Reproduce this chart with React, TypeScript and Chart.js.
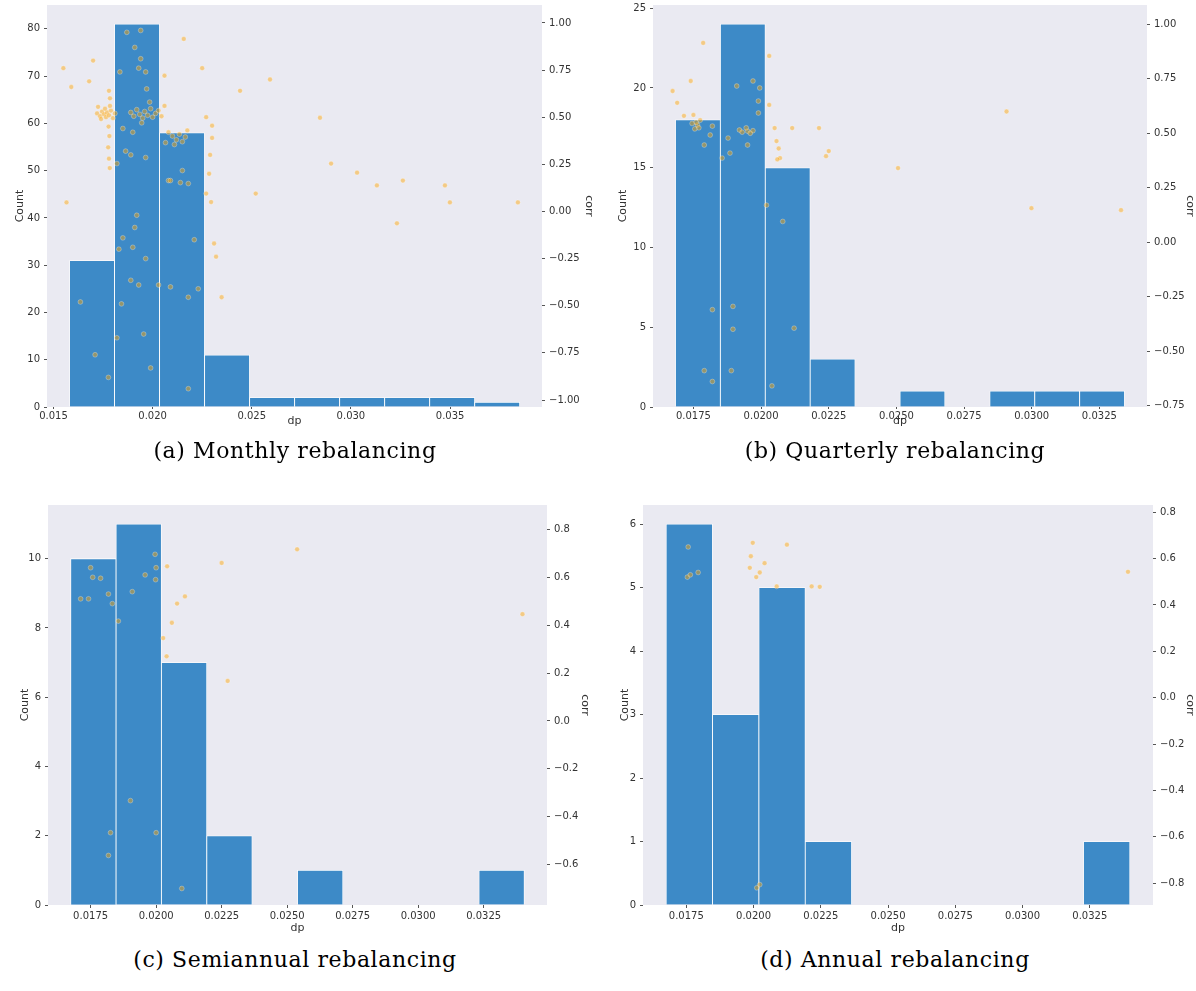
import React, { useEffect, useRef } from "react";
import { Chart, registerables } from "chart.js";

Chart.register(...registerables);

// ---------- DATA ----------
// Histogram bin edges and counts
const edgesA = [0.01581, 0.01808, 0.02035, 0.02262, 0.02489, 0.02716, 0.02943, 0.0317, 0.03397, 0.03624, 0.03851];
const countsA = [31, 81, 58, 11, 2, 2, 2, 2, 2, 1];

const edgesB = [0.016836, 0.018495, 0.020155, 0.021814, 0.023474, 0.025133, 0.026792, 0.028452, 0.030111, 0.031771, 0.03343];
const countsB = [18, 24, 15, 3, 0, 1, 0, 1, 1, 1];

const edgesC = [0.01674, 0.018471, 0.020202, 0.021933, 0.023664, 0.025395, 0.027126, 0.028857, 0.030588, 0.032319, 0.03405];
const countsC = [10, 11, 7, 2, 0, 1, 0, 0, 0, 1];

const edgesD = [0.01675, 0.018474, 0.020198, 0.021922, 0.023646, 0.02537, 0.027094, 0.028818, 0.030542, 0.032266, 0.03399];
const countsD = [6, 3, 5, 1, 0, 0, 0, 0, 0, 1];

// Scatter overlay points [dp, corr]
const pointsA: number[][] = [
  [0.0172, 0.52], [0.01735, 0.505], [0.01745, 0.53], [0.01755, 0.515], [0.01765, 0.5], [0.0177, 0.525],
  [0.0178, 0.51], [0.0179, 0.535], [0.018, 0.495], [0.0181, 0.52], [0.0174, 0.49], [0.0176, 0.545],
  [0.01725, 0.555], [0.01785, 0.56], [0.0189, 0.525], [0.01905, 0.505], [0.0192, 0.54], [0.01935, 0.515],
  [0.0195, 0.495], [0.0196, 0.53], [0.01975, 0.51], [0.0199, 0.545], [0.02, 0.5], [0.02015, 0.52],
  [0.0203, 0.535], [0.02045, 0.505], [0.0206, 0.56], [0.01945, 0.47], [0.01985, 0.58],
  [0.0208, 0.42], [0.021, 0.4], [0.0212, 0.38], [0.02135, 0.41], [0.0215, 0.37], [0.02165, 0.395],
  [0.0211, 0.355], [0.02175, 0.43],
  [0.0178, 0.64], [0.01785, 0.6], [0.01778, 0.45], [0.01782, 0.4], [0.01776, 0.34], [0.0178, 0.28], [0.01784, 0.23],
  [0.017, 0.8], [0.0168, 0.69], [0.0155, 0.76], [0.0159, 0.66], [0.01835, 0.74], [0.0187, 0.95],
  [0.0194, 0.96], [0.0191, 0.87], [0.0194, 0.81], [0.01965, 0.74], [0.0197, 0.65], [0.0193, 0.76],
  [0.02157, 0.915], [0.0206, 0.72], [0.0225, 0.76], [0.02441, 0.64], [0.02592, 0.7],
  [0.01864, 0.32], [0.0189, 0.3], [0.0185, 0.44], [0.019, 0.42], [0.01965, 0.286], [0.0182, 0.254],
  [0.02065, 0.365], [0.0208, 0.164], [0.0209, 0.164], [0.0214, 0.153], [0.0218, 0.148], [0.0215, 0.217],
  [0.0227, 0.5], [0.023, 0.455], [0.0227, 0.095], [0.0231, -0.17], [0.0232, -0.24], [0.023, 0.39],
  [0.0229, 0.3], [0.02285, 0.2], [0.02295, 0.05],
  [0.01566, 0.048], [0.01636, -0.48], [0.0171, -0.76], [0.01777, -0.88], [0.0182, -0.67], [0.01843, -0.49],
  [0.0183, -0.2], [0.0185, -0.14], [0.019, -0.19], [0.0192, -0.02], [0.0191, -0.085], [0.01965, -0.25],
  [0.0189, -0.365], [0.0193, -0.39], [0.01955, -0.65], [0.0199, -0.83], [0.0203, -0.39], [0.0209, -0.4],
  [0.0218, -0.455], [0.0218, -0.94], [0.0221, -0.15], [0.0223, -0.41], [0.02348, -0.455], [0.0252, 0.095],
  [0.02844, 0.497], [0.029, 0.254], [0.03031, 0.206], [0.03131, 0.138], [0.03262, 0.164], [0.03232, -0.063],
  [0.03474, 0.138], [0.03499, 0.048], [0.03842, 0.048],
];

const pointsB: number[][] = [
  [0.01765, 0.538], [0.0175, 0.584], [0.01673, 0.694], [0.0174, 0.74], [0.01786, 0.915], [0.0182, 0.533],
  [0.0191, 0.717], [0.0197, 0.74], [0.01995, 0.708], [0.0199, 0.648], [0.0199, 0.593], [0.0192, 0.515],
  [0.0195, 0.51], [0.0197, 0.512], [0.0195, 0.446], [0.01878, 0.478], [0.01856, 0.386], [0.01885, 0.409],
  [0.0179, 0.446], [0.01812, 0.492], [0.0203, 0.855], [0.0203, 0.63], [0.0205, 0.524], [0.02057, 0.464],
  [0.0207, 0.386], [0.0206, 0.38], [0.02115, 0.524], [0.02214, 0.524], [0.0225, 0.418], [0.0224, 0.395],
  [0.0202, 0.17], [0.0208, 0.095], [0.02122, -0.395], [0.0204, -0.66], [0.0182, -0.31], [0.01896, -0.295],
  [0.01896, -0.4], [0.0179, -0.59], [0.0182, -0.64], [0.0189, -0.59], [0.02506, 0.34], [0.02907, 0.6],
  [0.02999, 0.156], [0.0333, 0.147], [0.0176, 0.55], [0.0177, 0.525], [0.01755, 0.52], [0.01775, 0.56],
  [0.01745, 0.545], [0.0169, 0.64], [0.01715, 0.58], [0.0193, 0.505], [0.01945, 0.525], [0.0196, 0.5],
  [0.02065, 0.43],
];

const pointsC: number[][] = [
  [0.01712, 0.51], [0.01742, 0.51], [0.0175, 0.64], [0.01758, 0.6], [0.01788, 0.596], [0.01818, 0.53],
  [0.01833, 0.49], [0.01856, 0.417], [0.01909, 0.54], [0.01958, 0.61], [0.01996, 0.696], [0.02, 0.64],
  [0.01998, 0.59], [0.02042, 0.646], [0.0208, 0.49], [0.0206, 0.41], [0.0211, 0.52], [0.0225, 0.66],
  [0.02273, 0.167], [0.01902, -0.333], [0.01826, -0.467], [0.01818, -0.562], [0.02, -0.467], [0.02098, -0.7],
  [0.02027, 0.346], [0.0204, 0.27], [0.02538, 0.717], [0.03398, 0.446],
];

const pointsD: number[][] = [
  [0.01757, 0.65], [0.01754, 0.52], [0.01765, 0.53], [0.01794, 0.54], [0.01997, 0.668], [0.02124, 0.66],
  [0.01986, 0.56], [0.02023, 0.54], [0.02041, 0.58], [0.02086, 0.48], [0.02216, 0.48], [0.02246, 0.478],
  [0.02023, -0.806], [0.02012, -0.82], [0.0199, 0.61], [0.0201, 0.52], [0.03392, 0.543],
];

// Tick values
const xTicksA = [0.015, 0.02, 0.025, 0.03, 0.035];
const xTicksBCD = [0.0175, 0.02, 0.0225, 0.025, 0.0275, 0.03, 0.0325];
const countTicksA = [0, 10, 20, 30, 40, 50, 60, 70, 80];
const countTicksB = [0, 5, 10, 15, 20, 25];
const countTicksC = [0, 2, 4, 6, 8, 10];
const countTicksD = [0, 1, 2, 3, 4, 5, 6];
const rightTicksA = [-1, -0.75, -0.5, -0.25, 0, 0.25, 0.5, 0.75, 1];
const rightTicksB = [-0.75, -0.5, -0.25, 0, 0.25, 0.5, 0.75, 1];
const rightTicksC = [-0.6, -0.4, -0.2, 0, 0.2, 0.4, 0.6, 0.8];
const rightTicksD = [-0.8, -0.6, -0.4, -0.2, 0, 0.2, 0.4, 0.6, 0.8];

const captions = ["(a) Monthly rebalancing", "(b) Quarterly rebalancing", "(c) Semiannual rebalancing", "(d) Annual rebalancing"];

// ---------- LAYOUT ----------
const FONT = "'DejaVu Sans', sans-serif";
const BAR_COLOR = "#3d8ac7";
const BG = "#EAEAF2";

type PanelCfg = {
  edges: number[]; counts: number[]; points: number[][];
  xTicks: number[]; yTicks: number[]; y1Ticks: number[];
  xDec: number; y1Dec: number;
  xMin: number; xMax: number; yMax: number; y1Min: number; y1Max: number;
  left: number; top: number; width: number; height: number;
  padTop: number; leftW: number; rightW: number; bottomH: number;
  yTitlePad: number; y1TitlePad: number; xTitlePad: number;
  xTickLen: number; xTickPad: number; tickSize: number;
  caption: string; capLeft: number; capTop: number; capWidth: number;
};

const panels: PanelCfg[] = [
  {
    edges: edgesA, counts: countsA, points: pointsA, xTicks: xTicksA, yTicks: countTicksA, y1Ticks: rightTicksA,
    xDec: 3, y1Dec: 2, xMin: 0.014675, xMax: 0.039635, yMax: 85.05, y1Min: -1.037, y1Max: 1.095,
    left: 0, top: 0, width: 598, height: 440, padTop: 5, leftW: 47, rightW: 56, bottomH: 33,
    yTitlePad: 14, y1TitlePad: 3, xTitlePad: 12, xTickLen: 2, xTickPad: 1, tickSize: 10,
    caption: captions[0], capLeft: 0, capTop: 437, capWidth: 590,
  },
  {
    edges: edgesB, counts: countsB, points: pointsB, xTicks: xTicksBCD, yTicks: countTicksB, y1Ticks: rightTicksB,
    xDec: 4, y1Dec: 2, xMin: 0.016006, xMax: 0.03426, yMax: 25.2, y1Min: -0.757, y1Max: 1.089,
    left: 598, top: 0, width: 598, height: 440, padTop: 5, leftW: 55, rightW: 49, bottomH: 33,
    yTitlePad: 19, y1TitlePad: 0, xTitlePad: 12, xTickLen: 2, xTickPad: 1, tickSize: 10,
    caption: captions[1], capLeft: 598, capTop: 437, capWidth: 594,
  },
  {
    edges: edgesC, counts: countsC, points: pointsC, xTicks: xTicksBCD, yTicks: countTicksC, y1Ticks: rightTicksC,
    xDec: 4, y1Dec: 1, xMin: 0.015874, xMax: 0.034916, yMax: 11.55, y1Min: -0.769, y1Max: 0.902,
    left: 0, top: 490, width: 598, height: 450, padTop: 15, leftW: 48, rightW: 51, bottomH: 35,
    yTitlePad: 19, y1TitlePad: 7, xTitlePad: 5, xTickLen: 3, xTickPad: 2, tickSize: 10,
    caption: captions[2], capLeft: 0, capTop: 946, capWidth: 590,
  },
  {
    edges: edgesD, counts: countsD, points: pointsD, xTicks: xTicksBCD, yTicks: countTicksD, y1Ticks: rightTicksD,
    xDec: 4, y1Dec: 1, xMin: 0.01589, xMax: 0.03485, yMax: 6.3, y1Min: -0.894, y1Max: 0.831,
    left: 598, top: 490, width: 598, height: 450, padTop: 15, leftW: 45, rightW: 43, bottomH: 35,
    yTitlePad: 21, y1TitlePad: 0, xTitlePad: 5, xTickLen: 3, xTickPad: 2, tickSize: 10,
    caption: captions[3], capLeft: 598, capTop: 946, capWidth: 594,
  },
];

const fmt = (v: number, d: number) => v.toFixed(d).replace("-", "\u2212");

const bgPlugin = {
  id: "plotBg",
  beforeDraw(chart: any) {
    const { ctx, chartArea } = chart;
    if (!chartArea) return;
    ctx.save();
    ctx.fillStyle = BG;
    ctx.fillRect(chartArea.left, chartArea.top, chartArea.right - chartArea.left, chartArea.bottom - chartArea.top);
    ctx.restore();
  },
};

function Panel({ cfg }: { cfg: PanelCfg }) {
  const ref = useRef<HTMLCanvasElement | null>(null);

  useEffect(() => {
    if (!ref.current) return;
    const centers = cfg.counts.map((_, i) => (cfg.edges[i] + cfg.edges[i + 1]) / 2);
    const tickFont = { family: FONT, size: cfg.tickSize };
    const titleFont = { family: FONT, size: 11 };
    const tickColor = "#333";
    const markColor = "#555";

    const chart = new Chart(ref.current, {
      type: "bar",
      data: {
        datasets: [
          {
            type: "scatter",
            data: cfg.points.map(([x, y]) => ({ x, y })),
            xAxisID: "x",
            yAxisID: "y1",
            pointRadius: 2.4,
            pointBackgroundColor: "rgba(255,165,0,0.45)",
            pointBorderColor: "rgba(255,255,255,0.55)",
            pointBorderWidth: 0.5,
            order: 1,
          } as any,
          {
            type: "bar",
            data: centers.map((c, i) => ({ x: c, y: cfg.counts[i] })),
            xAxisID: "x",
            yAxisID: "y",
            backgroundColor: BAR_COLOR,
            borderColor: "#ffffff",
            borderWidth: 0.8,
            barPercentage: 1,
            categoryPercentage: 1,
            order: 2,
          } as any,
        ],
      },
      options: {
        responsive: false,
        animation: false,
        devicePixelRatio: 1,
        events: [],
        layout: { padding: { left: 0, right: 0, top: cfg.padTop, bottom: 0 } },
        plugins: { legend: { display: false }, tooltip: { enabled: false } },
        scales: {
          x: {
            type: "linear",
            position: "bottom",
            min: cfg.xMin,
            max: cfg.xMax,
            offset: false,
            grid: { display: true, drawOnChartArea: false, drawTicks: true, tickLength: cfg.xTickLen, color: markColor, offset: false },
            border: { display: false },
            ticks: {
              autoSkip: false, maxRotation: 0, minRotation: 0, padding: cfg.xTickPad,
              color: tickColor, font: tickFont,
              callback: (v: any) => Number(v).toFixed(cfg.xDec),
            },
            title: { display: true, text: "dp", color: tickColor, font: titleFont, padding: { top: 0, bottom: cfg.xTitlePad } },
            afterBuildTicks: (s: any) => { s.ticks = cfg.xTicks.map((v) => ({ value: v })); },
            afterFit: (s: any) => { s.height = cfg.bottomH; s.paddingLeft = 0; s.paddingRight = 0; },
          } as any,
          y: {
            type: "linear",
            position: "left",
            min: 0,
            max: cfg.yMax,
            grid: { display: true, drawOnChartArea: false, drawTicks: true, tickLength: 3, color: markColor },
            border: { display: false },
            ticks: { padding: 4, color: tickColor, font: tickFont, callback: (v: any) => String(Math.round(Number(v))) },
            title: { display: true, text: "Count", color: tickColor, font: titleFont, padding: { top: cfg.yTitlePad, bottom: 0 } },
            afterBuildTicks: (s: any) => { s.ticks = cfg.yTicks.map((v) => ({ value: v })); },
            afterFit: (s: any) => { s.width = cfg.leftW; s.paddingTop = 0; s.paddingBottom = 0; },
          } as any,
          y1: {
            type: "linear",
            position: "right",
            min: cfg.y1Min,
            max: cfg.y1Max,
            grid: { display: true, drawOnChartArea: false, drawTicks: true, tickLength: 3, color: markColor },
            border: { display: false },
            ticks: { padding: 4, color: tickColor, font: tickFont, callback: (v: any) => fmt(Number(v), cfg.y1Dec) },
            title: { display: true, text: "corr", color: tickColor, font: titleFont, padding: { top: cfg.y1TitlePad, bottom: 0 } },
            afterBuildTicks: (s: any) => { s.ticks = cfg.y1Ticks.map((v) => ({ value: v })); },
            afterFit: (s: any) => { s.width = cfg.rightW; s.paddingTop = 0; s.paddingBottom = 0; },
          } as any,
        },
      },
      plugins: [bgPlugin],
    });
    return () => chart.destroy();
  }, [cfg]);

  return (
    <>
      <canvas
        ref={ref}
        width={cfg.width}
        height={cfg.height}
        style={{ position: "absolute", left: cfg.left, top: cfg.top, width: cfg.width, height: cfg.height }}
      />
      <div
        style={{
          position: "absolute",
          left: cfg.capLeft,
          top: cfg.capTop,
          width: cfg.capWidth,
          height: 28,
          lineHeight: "28px",
          textAlign: "center",
          fontFamily: "'DejaVu Serif', serif",
          fontSize: 22,
          letterSpacing: "0.6px",
          color: "#000",
          whiteSpace: "nowrap",
        }}
      >
        {cfg.caption}
      </div>
    </>
  );
}

export default function App() {
  return (
    <div style={{ position: "absolute", left: 0, top: 0, width: 1196, height: 991, background: "#fff", overflow: "hidden" }}>
      {panels.map((p, i) => (
        <Panel key={i} cfg={p} />
      ))}
    </div>
  );
}
